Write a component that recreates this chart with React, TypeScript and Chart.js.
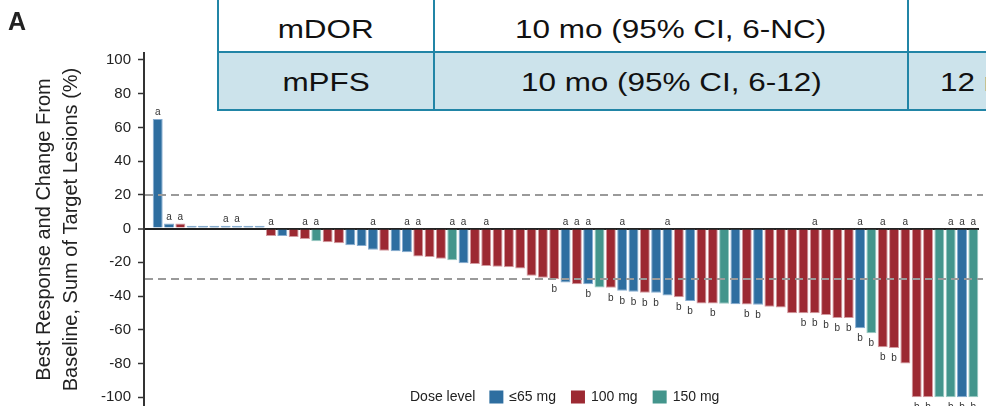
import React, { useEffect, useRef } from "react";
import { Chart, registerables } from "chart.js";

Chart.register(...registerables);

// ---------- data ----------
const doseLevels = ["≤65 mg", "100 mg", "150 mg"];
const doseColors = ["#2e6ea0", "#9c2932", "#43958c"];
const doseEdgeColors = ["#86acd0", "#d39aa0", "#98c9c2"];

// best % change from baseline, sum of target lesions (one bar per patient)
const changeFromBaseline = [
  65, 3, 3, 1.6, 1.6, 1.6, 1.6, 1.6, 1.6, 1.6,
  -4.4, -4.4, -5, -6.2, -7.5, -8.1, -8.7, -9.9, -10.3, -12.5,
  -13.1, -13.5, -14, -16.5, -16.9, -17.9, -18.8, -20.6, -21, -22.2,
  -22.6, -23, -23.6, -28, -29.2, -30, -32, -33, -33, -35,
  -35.1, -36.9, -37.5, -38.1, -38.1, -39.7, -40.7, -42.9, -44.4, -44.4,
  -44.6, -44.8, -45, -45.2, -46.4, -46.8, -50.2, -50.2, -50.2, -51.2,
  -53, -53, -59.1, -62.1, -70.4, -70.8, -80, -100, -100, -100,
  -100, -100, -100,
];

// index into doseLevels for each patient
const doseGroup = [
  0, 0, 1, 0, 0, 0, 0, 0, 0, 0,
  1, 0, 1, 1, 2, 1, 1, 0, 0, 0,
  1, 0, 0, 1, 1, 1, 2, 0, 1, 1,
  1, 1, 1, 1, 1, 1, 0, 1, 0, 2,
  1, 0, 0, 1, 0, 0, 1, 0, 1, 1,
  2, 0, 1, 0, 1, 1, 1, 1, 1, 1,
  1, 1, 0, 2, 1, 1, 1, 1, 1, 2,
  2, 0, 2,
];

// patients (1-based) marked with footnote "a" (above) and "b" (below)
const footnoteA = [1, 2, 3, 7, 8, 11, 14, 15, 20, 23, 24, 27, 28, 30, 37, 38, 39, 42, 46, 59, 63, 65, 67, 71, 72, 73];
const footnoteB = [36, 39, 41, 42, 43, 44, 45, 47, 48, 50, 53, 54, 58, 59, 60, 61, 62, 63, 64, 65, 66, 68, 69, 71, 72, 73];

const yTicks = [100, 80, 60, 40, 20, 0, -20, -40, -60, -80, -100];
const thresholdLines = [20, -30];
const yTitle = ["Best Response and Change From", "Baseline, Sum of Target Lesions (%)"];
const legendTitle = "Dose level";

const tableRows = [
  ["mDOR", "10 mo (95% CI, 6-NC)", ""],
  ["mPFS", "10 mo (95% CI, 6-12)", "12 mo"],
];

const FONT = "'Liberation Sans', Arial, Helvetica, sans-serif";

const annotationPlugin = {
  id: "waterfallAnnotations",
  afterDatasetsDraw(chart: any) {
    const { ctx, chartArea } = chart;
    const x = chart.scales.x;
    const y = chart.scales.y;
    ctx.save();
    ctx.strokeStyle = "#9a9a9a";
    ctx.lineWidth = 2;
    ctx.setLineDash([8, 5]);
    for (const v of thresholdLines) {
      const py = Math.round(y.getPixelForValue(v));
      ctx.beginPath();
      ctx.moveTo(chartArea.left + 1, py);
      ctx.lineTo(chartArea.right + 4, py);
      ctx.stroke();
    }
    ctx.setLineDash([]);
    ctx.fillStyle = "#333";
    ctx.font = `10px ${FONT}`;
    ctx.textAlign = "center";
    ctx.textBaseline = "alphabetic";
    const zero = y.getPixelForValue(0);
    for (const p of footnoteA) {
      const v = changeFromBaseline[p - 1];
      const px = x.getPixelForValue(p);
      const top = Math.min(y.getPixelForValue(v), zero);
      ctx.fillText("a", px, top - 4);
    }
    for (const p of footnoteB) {
      const v = changeFromBaseline[p - 1];
      const px = x.getPixelForValue(p);
      const bottom = Math.max(y.getPixelForValue(v), zero);
      ctx.fillText("b", px, bottom + 13);
    }
    ctx.restore();
  },
  afterDraw(chart: any) {
    const { ctx } = chart;
    ctx.save();
    ctx.font = `14px ${FONT}`;
    ctx.textBaseline = "middle";
    ctx.textAlign = "left";
    ctx.fillStyle = "#222";
    const cy = 397;
    let cx = 410;
    ctx.fillText(legendTitle, cx, cy);
    cx += ctx.measureText(legendTitle).width + 14;
    doseLevels.forEach((lab, i) => {
      ctx.fillStyle = doseColors[i];
      ctx.fillRect(cx, cy - 6.5, 14, 13);
      cx += 20;
      ctx.fillStyle = "#222";
      ctx.fillText(lab, cx, cy);
      cx += ctx.measureText(lab).width + 15;
    });
    ctx.restore();
  },
};

export default function App() {
  const canvasRef = useRef<HTMLCanvasElement | null>(null);

  useEffect(() => {
    if (!canvasRef.current) return;
    Chart.defaults.font.family = FONT;
    const chart = new Chart(canvasRef.current, {
      type: "bar",
      data: {
        datasets: [
          {
            data: changeFromBaseline.map((v, i) => ({ x: i + 1, y: v })),
            backgroundColor: doseGroup.map((g) => doseColors[g]),
            borderColor: doseGroup.map((g) => doseEdgeColors[g]),
            borderWidth: 1,
            barPercentage: 0.88,
            categoryPercentage: 1,
          },
        ],
      },
      options: {
        responsive: false,
        animation: false,
        devicePixelRatio: 1,
        layout: { padding: { top: 53, bottom: 0, left: 0, right: 7 } },
        plugins: {
          legend: { display: false },
          tooltip: { enabled: false },
        },
        scales: {
          x: {
            type: "linear",
            display: false,
            min: -0.21,
            max: 73.5,
            offset: false,
            grid: { display: false },
          },
          y: {
            min: -105.2,
            max: 104.1,
            afterBuildTicks: (scale: any) => {
              scale.ticks = yTicks.map((v) => ({ value: v }));
            },
            afterFit: (scale: any) => {
              scale.width = 144;
              scale.paddingTop = 0;
              scale.paddingBottom = 0;
            },
            border: { display: true, color: "#333", width: 2 },
            grid: {
              drawOnChartArea: true,
              color: (c: any) => (c.tick && c.tick.value === 0 ? "#222" : "rgba(0,0,0,0)"),
              lineWidth: (c: any) => (c.tick && c.tick.value === 0 ? 2 : 1),
              tickColor: "#333",
              tickWidth: 1.5,
              tickLength: 6,
            },
            ticks: {
              color: "#222",
              padding: 7,
              font: { size: 15, family: FONT },
              callback: (v: any) => String(v),
            },
            title: {
              display: true,
              text: yTitle,
              color: "#222",
              font: { size: 20, family: FONT, lineHeight: 1.35 },
              padding: { top: 31, bottom: 0 },
            },
          },
        },
      },
      plugins: [annotationPlugin],
    } as any);
    return () => chart.destroy();
  }, []);

  const border = "#2185a6";
  const cellText = (text: string, left: number, width: number, top: number, align: "center" | "left") => (
    <div
      style={{
        position: "absolute",
        left,
        width,
        top,
        textAlign: align,
        whiteSpace: "nowrap",
        font: `26px ${FONT}`,
        lineHeight: "26px",
        color: "#111",
      }}
    >
      <span
        style={{
          display: "inline-block",
          transform: "scaleX(1.21)",
          transformOrigin: align === "center" ? "50% 50%" : "0 50%",
        }}
      >
        {text}
      </span>
    </div>
  );

  return (
    <div
      style={{
        position: "fixed",
        left: 0,
        top: 0,
        width: 986,
        height: 406,
        overflow: "hidden",
        background: "#fff",
      }}
    >
      <canvas
        ref={canvasRef}
        width={986}
        height={406}
        style={{ position: "absolute", left: 0, top: 0, width: 986, height: 406 }}
      />
      <div
        style={{
          position: "absolute",
          left: 8,
          top: 9,
          font: `bold 25px ${FONT}`,
          lineHeight: "25px",
          color: "#222",
        }}
      >
        A
      </div>
      {/* summary table overlay */}
      <div style={{ position: "absolute", left: 218, top: 0, width: 780, height: 52, background: "#fff" }} />
      <div style={{ position: "absolute", left: 218, top: 53, width: 780, height: 56, background: "#cce3eb" }} />
      <div style={{ position: "absolute", left: 217, top: 51, width: 780, height: 2, background: border }} />
      <div style={{ position: "absolute", left: 217, top: 109, width: 780, height: 2, background: border }} />
      <div style={{ position: "absolute", left: 217, top: 0, width: 2, height: 111, background: border }} />
      <div style={{ position: "absolute", left: 433, top: 0, width: 2, height: 111, background: border }} />
      <div style={{ position: "absolute", left: 907, top: 0, width: 2, height: 111, background: border }} />
      {cellText(tableRows[0][0], 219, 214, 16, "center")}
      {cellText(tableRows[0][1], 435, 472, 16, "center")}
      {cellText(tableRows[1][0], 219, 214, 69, "center")}
      {cellText(tableRows[1][1], 435, 472, 69, "center")}
      {cellText(tableRows[1][2], 940, 200, 69, "left")}
    </div>
  );
}
